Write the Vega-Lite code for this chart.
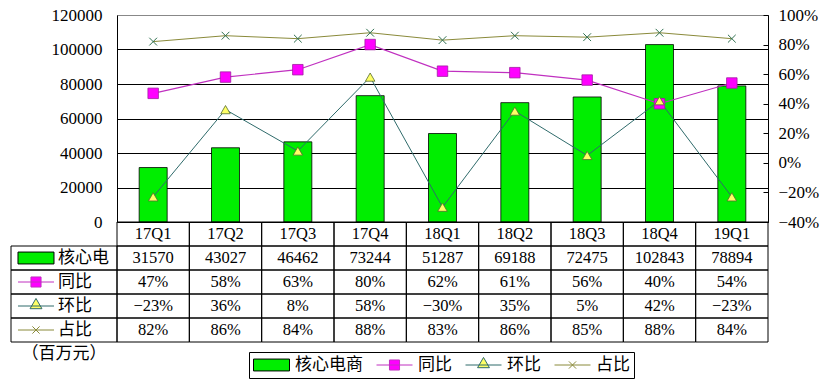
{
  "$schema": "https://vega.github.io/schema/vega-lite/v6.json",
  "padding": {"left": 10, "top": 5, "right": 5, "bottom": 5},
  "background": "#ffffff",
  "config": {"view": {"stroke": null}},
  "datasets": {
    "main": [
      {"季度": "17Q1", "核心电商": 31570, "同比": 0.47, "环比": -0.23, "占比": 0.82},
      {"季度": "17Q2", "核心电商": 43027, "同比": 0.58, "环比": 0.36, "占比": 0.86},
      {"季度": "17Q3", "核心电商": 46462, "同比": 0.63, "环比": 0.08, "占比": 0.84},
      {"季度": "17Q4", "核心电商": 73244, "同比": 0.80, "环比": 0.58, "占比": 0.88},
      {"季度": "18Q1", "核心电商": 51287, "同比": 0.62, "环比": -0.30, "占比": 0.83},
      {"季度": "18Q2", "核心电商": 69188, "同比": 0.61, "环比": 0.35, "占比": 0.86},
      {"季度": "18Q3", "核心电商": 72475, "同比": 0.56, "环比": 0.05, "占比": 0.85},
      {"季度": "18Q4", "核心电商": 102843, "同比": 0.40, "环比": 0.42, "占比": 0.88},
      {"季度": "19Q1", "核心电商": 78894, "同比": 0.54, "环比": -0.23, "占比": 0.84}
    ],
    "header": [
      {"series": "核心电商", "label": "核心电"},
      {"series": "同比", "label": "同比"},
      {"series": "环比", "label": "环比"},
      {"series": "占比", "label": "占比"}
    ]
  },
  "columns": 2,
  "spacing": 0,
  "bounds": "flush",
  "align": "each",
  "concat": [
    {
      "width": 106, "height": 207,
      "data": {"values": []},
      "mark": {"type": "point"}
    },
    {
      "width": 651, "height": 207,
      "data": {"name": "main"},
      "view": {"stroke": "#888888"},
      "layer": [
        {
          "mark": {"type": "bar", "fill": "#00EE00", "stroke": "#000000", "strokeWidth": 0.8},
          "encoding": {
            "x": {"field": "季度", "type": "nominal", "sort": null, "axis": null, "scale": {"paddingInner": 0.613, "paddingOuter": 0.3065}},
            "y": {"field": "核心电商", "type": "quantitative", "scale": {"domain": [0, 120000], "nice": false},
              "axis": {"values": [0, 20000, 40000, 60000, 80000, 100000, 120000], "format": "d", "grid": true,
                "gridColor": {"condition": {"test": "datum.value === 120000", "value": "#888888"}, "value": "#000000"},
                "gridOpacity": 1, "gridWidth": 1, "domainColor": "#000000", "ticks": false, "labelPadding": 15,
                "labelFont": "Liberation Serif", "labelFontSize": 17, "labelColor": "#000000", "title": null}}
          }
        },
        {
          "encoding": {"x": {"field": "季度", "type": "nominal", "sort": null}},
          "layer": [
            {"mark": {"type": "line", "stroke": "#C030C0", "strokeWidth": 1.2},
             "encoding": {"y": {"field": "同比", "type": "quantitative", "scale": {"domain": [-0.4, 1], "nice": false},
               "axis": {"values": [-0.4, -0.2, 0, 0.2, 0.4, 0.6, 0.8, 1], "format": ".0%", "grid": false, "domainColor": "#000000", "ticks": true, "tickSize": -5, "tickColor": "#000000", "labelPadding": 15, "labelFont": "Liberation Serif", "labelFontSize": 17, "labelColor": "#000000", "title": null}}}},
            {"mark": {"type": "line", "stroke": "#2F6B6B", "strokeWidth": 1},
             "encoding": {"y": {"field": "环比", "type": "quantitative",
               "axis": {"values": [-0.4, -0.2, 0, 0.2, 0.4, 0.6, 0.8, 1], "format": ".0%", "grid": false, "domainColor": "#000000", "ticks": true, "tickSize": -5, "tickColor": "#000000", "labelPadding": 15, "labelFont": "Liberation Serif", "labelFontSize": 17, "labelColor": "#000000", "title": null}}}},
            {"mark": {"type": "line", "stroke": "#8A8A3A", "strokeWidth": 1},
             "encoding": {"y": {"field": "占比", "type": "quantitative",
               "axis": {"values": [-0.4, -0.2, 0, 0.2, 0.4, 0.6, 0.8, 1], "format": ".0%", "grid": false, "domainColor": "#000000", "ticks": true, "tickSize": -5, "tickColor": "#000000", "labelPadding": 15, "labelFont": "Liberation Serif", "labelFontSize": 17, "labelColor": "#000000", "title": null}}}},
            {"mark": {"type": "point", "shape": "square", "filled": true, "fill": "#FF00FF", "stroke": "#A020A0", "strokeWidth": 0.8, "size": 110, "opacity": 1},
             "encoding": {"y": {"field": "同比", "type": "quantitative",
               "axis": {"values": [-0.4, -0.2, 0, 0.2, 0.4, 0.6, 0.8, 1], "format": ".0%", "grid": false, "domainColor": "#000000", "ticks": true, "tickSize": -5, "tickColor": "#000000", "labelPadding": 15, "labelFont": "Liberation Serif", "labelFontSize": 17, "labelColor": "#000000", "title": null}}}},
            {"mark": {"type": "point", "shape": "triangle-up", "filled": true, "fill": "#FFFF66", "stroke": "#556B2F", "strokeWidth": 0.8, "size": 90, "opacity": 1},
             "encoding": {"y": {"field": "环比", "type": "quantitative",
               "axis": {"values": [-0.4, -0.2, 0, 0.2, 0.4, 0.6, 0.8, 1], "format": ".0%", "grid": false, "domainColor": "#000000", "ticks": true, "tickSize": -5, "tickColor": "#000000", "labelPadding": 15, "labelFont": "Liberation Serif", "labelFontSize": 17, "labelColor": "#000000", "title": null}}}},
            {"mark": {"type": "point", "shape": "M-1,-1L1,1M-1,1L1,-1", "filled": false, "stroke": "#2F6F4F", "strokeWidth": 1, "size": 60, "opacity": 1},
             "encoding": {"y": {"field": "占比", "type": "quantitative",
               "axis": {"values": [-0.4, -0.2, 0, 0.2, 0.4, 0.6, 0.8, 1], "format": ".0%", "grid": false, "domainColor": "#000000", "ticks": true, "tickSize": -5, "tickColor": "#000000", "labelPadding": 15, "labelFont": "Liberation Serif", "labelFontSize": 17, "labelColor": "#000000", "title": null}}}}
          ]
        }
      ],
      "resolve": {"scale": {"y": "independent"}}
    },
    {
      "width": 106, "height": 144,
      "data": {"name": "header"},
      "layer": [
        {
          "mark": {"type": "rect", "fill": "transparent", "stroke": "#000000", "strokeWidth": 1},
          "encoding": {
            "y": {"field": "series", "type": "nominal", "scale": {"domain": ["季度", "核心电商", "同比", "环比", "占比", "单位"], "paddingInner": 0, "paddingOuter": 0}, "axis": null}
          }
        },
        {
          "mark": {"type": "point", "filled": true, "opacity": 1, "size": 1296, "strokeWidth": 1},
          "encoding": {
            "x": {"datum": "sym", "type": "nominal", "scale": {"type": "point", "domain": ["sym"], "padding": 0, "align": 0.2358}, "axis": null},
            "y": {"field": "series", "type": "nominal"},
            "shape": {"field": "series", "type": "nominal",
              "scale": {"domain": ["核心电商", "同比", "环比", "占比"], "range": ["M-1,-0.33H1V0.33H-1Z", "M-1,0H1M-0.28,-0.28H0.28V0.28H-0.28Z", "M-1,0H1M0,-0.42L0.33,0.15H-0.33Z", "M-1,0H1M-0.2,-0.2L0.2,0.2M-0.2,0.2L0.2,-0.2"]},
              "legend": {"orient": "none", "legendX": 238, "legendY": 337, "direction": "horizontal", "title": null, "strokeColor": "#000000", "padding": 4, "symbolSize": 1296, "clipHeight": 18, "labelFont": "Noto Sans CJK SC", "labelFontSize": 17, "labelColor": "#000000", "labelOffset": 5, "columnPadding": 13, "symbolStrokeWidth": 1}},
            "fill": {"field": "series", "type": "nominal",
              "scale": {"domain": ["核心电商", "同比", "环比", "占比"], "range": ["#00EE00", "#FF00FF", "#FFFF66", "transparent"]},
              "legend": {"orient": "none", "legendX": 238, "legendY": 337, "direction": "horizontal", "title": null, "strokeColor": "#000000", "padding": 4, "symbolSize": 1296, "clipHeight": 18, "labelFont": "Noto Sans CJK SC", "labelFontSize": 17, "labelColor": "#000000", "labelOffset": 5, "columnPadding": 13, "symbolStrokeWidth": 1}},
            "stroke": {"field": "series", "type": "nominal",
              "scale": {"domain": ["核心电商", "同比", "环比", "占比"], "range": ["#000000", "#C030C0", "#2F6B6B", "#8A8A3A"]},
              "legend": {"orient": "none", "legendX": 238, "legendY": 337, "direction": "horizontal", "title": null, "strokeColor": "#000000", "padding": 4, "symbolSize": 1296, "clipHeight": 18, "labelFont": "Noto Sans CJK SC", "labelFontSize": 17, "labelColor": "#000000", "labelOffset": 5, "columnPadding": 13, "symbolStrokeWidth": 1}}
          }
        },
        {
          "mark": {"type": "text", "align": "left", "baseline": "middle", "dx": 22, "font": "Noto Sans CJK SC", "fontSize": 17, "color": "#000000"},
          "encoding": {
            "x": {"datum": "sym", "type": "nominal"},
            "y": {"field": "series", "type": "nominal"},
            "text": {"field": "label"}
          }
        },
        {
          "data": {"values": [{"unit": "（百万元）"}]},
          "mark": {"type": "text", "baseline": "middle", "font": "Noto Sans CJK SC", "fontSize": 17, "color": "#000000"},
          "encoding": {
            "y": {"datum": "单位", "type": "nominal"},
            "text": {"field": "unit"}
          }
        }
      ]
    },
    {
      "width": 651, "height": 120,
      "data": {"name": "main"},
      "encoding": {"x": {"field": "季度", "type": "nominal", "sort": null, "axis": null, "scale": {"paddingInner": 0, "paddingOuter": 0}}},
      "layer": [
        {
          "transform": [{"fold": ["季度", "核心电商", "同比", "环比", "占比"], "as": ["row", "v"]}],
          "mark": {"type": "rect", "fill": "transparent", "stroke": "#000000", "strokeWidth": 1},
          "encoding": {
            "y": {"field": "row", "type": "nominal", "scale": {"domain": ["季度", "核心电商", "同比", "环比", "占比"], "paddingInner": 0, "paddingOuter": 0}, "axis": null}
          }
        },
        {
          "mark": {"type": "text", "baseline": "middle", "font": "Liberation Serif", "fontSize": 16.5, "color": "#000000"},
          "encoding": {"y": {"datum": "季度", "type": "nominal"}, "text": {"field": "季度"}}
        },
        {
          "mark": {"type": "text", "baseline": "middle", "font": "Liberation Serif", "fontSize": 16.5, "color": "#000000"},
          "encoding": {"y": {"datum": "核心电商", "type": "nominal"}, "text": {"field": "核心电商", "type": "quantitative", "format": "d"}}
        },
        {
          "transform": [{"fold": ["同比", "环比", "占比"], "as": ["row", "v"]}],
          "mark": {"type": "text", "baseline": "middle", "font": "Liberation Serif", "fontSize": 16.5, "color": "#000000"},
          "encoding": {"y": {"field": "row", "type": "nominal"}, "text": {"field": "v", "type": "quantitative", "format": ".0%"}}
        }
      ]
    }
  ]
}
